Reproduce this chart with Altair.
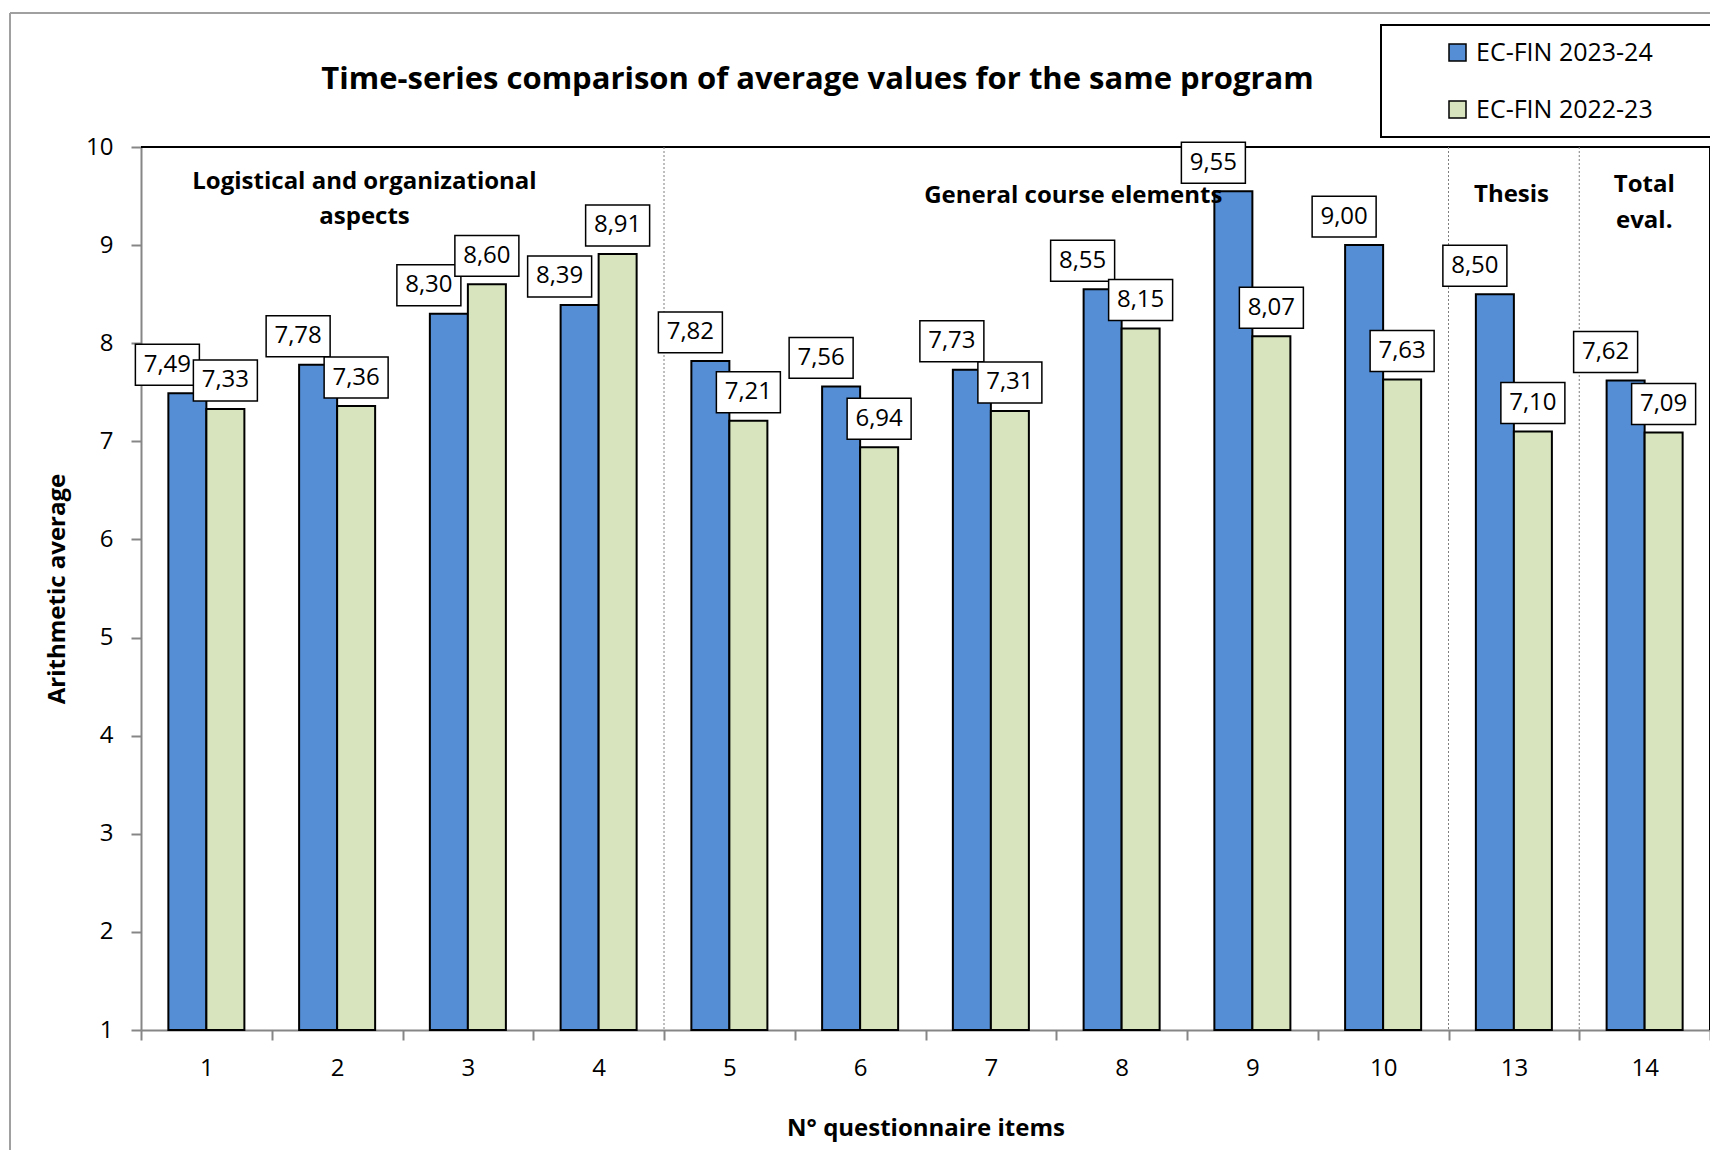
import altair as alt
import pandas as pd

# ---------------- data ----------------
items = ["1", "2", "3", "4", "5", "6", "7", "8", "9", "10", "13", "14"]
series_names = ["EC-FIN 2023-24", "EC-FIN 2022-23"]
values_2324 = [7.49, 7.78, 8.30, 8.39, 7.82, 7.56, 7.73, 8.55, 9.55, 9.00, 8.50, 7.62]
values_2223 = [7.33, 7.36, 8.60, 8.91, 7.21, 6.94, 7.31, 8.15, 8.07, 7.63, 7.10, 7.09]
colors = ["#558ED5", "#D7E4BD"]
section_starts = ["5", "13", "14"]
section_titles = [
    ["Logistical and organizational", "aspects"],
    ["General course elements"],
    ["Thesis"],
    ["Total", "eval."],
]
y_ticks = [1, 2, 3, 4, 5, 6, 7, 8, 9, 10]

rows = []
for i, it in enumerate(items):
    rows.append({"item": it, "series": series_names[0], "value": values_2324[i]})
    rows.append({"item": it, "series": series_names[1], "value": values_2223[i]})
df = pd.DataFrame(rows)

W, H = 1569, 883
FONT = "Open Sans"
AXIS_GRAY = "#868686"
LEG_X, LEG_Y = W - 329, -122

xscale = alt.Scale(domain=items, paddingInner=0, paddingOuter=0)
yscale = alt.Scale(domain=[1, 10], nice=False, zero=False)

x_axis = alt.Axis(
    labelAngle=0, labelFont=FONT, labelFontSize=24, labelColor="black", labelPadding=16,
    domainColor=AXIS_GRAY, domainWidth=2, tickColor=AXIS_GRAY, tickWidth=2, tickSize=10,
    tickBand="extent", grid=False,
    titleFont=FONT, titleFontSize=24, titleFontWeight="bold", titleColor="black", titlePadding=36,
)
y_axis = alt.Axis(
    values=y_ticks, labelFont=FONT, labelFontSize=24, labelColor="black", labelPadding=18,
    domainColor=AXIS_GRAY, domainWidth=2, tickColor=AXIS_GRAY, tickWidth=2, tickSize=10,
    grid=False,
    titleFont=FONT, titleFontSize=24, titleFontWeight="bold", titleColor="black", titlePadding=16,
)
X_TITLE = "N° questionnaire items"
Y_TITLE = "Arithmetic average"


def xenc(**kw):
    return alt.X("item:N", scale=xscale, sort=items, axis=x_axis, title=X_TITLE, **kw)


def yenc():
    return alt.Y("value:Q", scale=yscale, axis=y_axis, title=Y_TITLE)


base = alt.Chart(df)

bars = base.mark_bar(stroke="black", strokeWidth=2).encode(
    x=xenc(),
    xOffset=alt.XOffset("series:N", sort=series_names,
                        scale=alt.Scale(domain=series_names, paddingOuter=0.72, paddingInner=0)),
    y=yenc(),
    y2=alt.Y2(datum=1),
    color=alt.Color(
        "series:N",
        scale=alt.Scale(domain=series_names, range=colors),
        legend=alt.Legend(
            title=None, orient="none", legendX=LEG_X, legendY=LEG_Y, direction="vertical",
            padding=15,
            symbolType="square", symbolSize=289, symbolStrokeColor="black", symbolStrokeWidth=1.5,
            symbolOffset=49, labelOffset=6, labelLimit=500,
            labelFont=FONT, labelFontSize=25, labelColor="black", rowPadding=31,
        ),
    ),
)

# label boxes + texts
BOX = "M-1,-0.64H1V0.64H-1Z"
label_layers = []
for sname, xoff in [(series_names[0], -39), (series_names[1], 19)]:
    d = base.transform_filter(alt.datum.series == sname).transform_calculate(
        lbl="replace(format(datum.value, '.2f'), '.', ',')"
    )
    box = d.mark_point(
        shape=BOX, size=4096, fill="white", stroke="black", strokeWidth=1.5,
        opacity=1, fillOpacity=1, xOffset=xoff, yOffset=-28.5,
    ).encode(x=xenc(), y=yenc())
    txt = d.mark_text(
        font=FONT, fontSize=24, color="black", baseline="middle", align="center",
        xOffset=xoff, yOffset=-28.5,
    ).encode(x=xenc(), y=yenc(), text="lbl:N")
    label_layers += [box, txt]

# dotted separators between sections
seps = alt.Chart(pd.DataFrame({"item": section_starts})).mark_rule(
    color="#7f7f7f", strokeDash=[2, 2], strokeWidth=1
).encode(
    x=xenc(bandPosition=0),
    y=alt.Y(datum=10, scale=yscale, axis=y_axis, title=Y_TITLE),
    y2=alt.Y2(datum=1),
)

# section headings (anchor category boundary, pixel nudge, first-baseline y in plot px, line height)
heading_layers = []
heading_pos = [("3", -38, 42, 35), ("8", 17, 56, 35), ("13", 63, 55, 36), ("14", 65, 45, 36)]
for lines, (anchor, dx, ypx, lh) in zip(section_titles, heading_pos):
    heading_layers.append(
        alt.Chart(pd.DataFrame({"item": [anchor]})).mark_text(
            text=lines, font=FONT, fontSize=24, fontWeight="bold", color="black",
            align="center", baseline="alphabetic", lineHeight=lh, dx=dx,
        ).encode(x=xenc(bandPosition=0), y=alt.value(ypx))
    )

# decorations: outer frame, plot-area top/right border, legend box
one = pd.DataFrame({"item": [items[0]]})
frame_left = alt.Chart(one).mark_rule(color="#a0a0a0", strokeWidth=2).encode(
    x=alt.value(-131), y=alt.value(-134), y2=alt.value(H + 140))
frame_top = alt.Chart(one).mark_rule(color="#a0a0a0", strokeWidth=2).encode(
    x=alt.value(-131), x2=alt.value(W + 20), y=alt.value(-134))
plot_top = alt.Chart(one).mark_rule(color="black", strokeWidth=2).encode(
    x=alt.value(0), x2=alt.value(W), y=alt.value(0))
plot_right = alt.Chart(one).mark_rule(color="black", strokeWidth=2).encode(
    x=alt.value(W), y=alt.value(0), y2=alt.value(H))
legend_box = alt.Chart(one).mark_rect(fill="white", stroke="black", strokeWidth=2).encode(
    x=alt.value(LEG_X), x2=alt.value(W + 1), y=alt.value(LEG_Y), y2=alt.value(-10))

chart = alt.layer(
    frame_left, frame_top, plot_top, plot_right, legend_box, seps, bars,
    *label_layers, *heading_layers
).properties(
    width=W,
    height=H,
    title=alt.TitleParams(
        "Time-series comparison of average values for the same program",
        font=FONT, fontSize=31, fontWeight="bold", color="black",
        anchor="middle", frame="group", dx=-108, offset=-84,
    ),
    padding={"left": 133, "top": 139, "right": 0, "bottom": 120},
    autosize=alt.AutoSizeParams(type="none"),
).configure_view(
    stroke="black", strokeWidth=2
).configure(background="white")

chart.save("out.html", embed_options={"renderer": "svg", "actions": False})
